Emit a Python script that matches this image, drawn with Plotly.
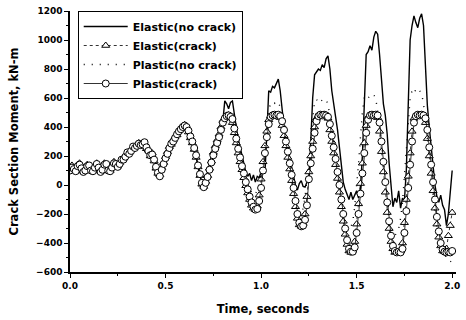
import plotly.graph_objects as go

# Sampling grid of the time history, 0.00 s to 2.00 s every 0.01 s
TIME = [round(i * 0.01, 2) for i in range(201)]

# Crack-section moment histories (kN-m), one value per time step
ELASTIC_NO_CRACK = [
    110, 130, 100, 90, 140, 150, 110, 80, 100, 140, 130, 95, 90, 130, 150, 115, 85, 110, 150, 140, 95, 90, 130, 160, 140, 120,
    150, 180, 170, 200, 230, 210, 240, 270, 250, 275, 290, 270, 285, 300, 250, 230, 200, 215, 170, 120, 80, 60, 110, 150,
    190, 220, 260, 280, 300, 330, 350, 370, 390, 400, 415, 395, 370, 330, 300, 250, 200, 130, 70, 10, -20, 20, 60, 110, 160,
    210, 250, 290, 330, 380, 440, 580, 560, 526, 570, 580, 470, 400, 320, 260, 209, 130, 90, 60, 80, 30, 70, 20, 60, 50,
    90, 100, 80, 350, 650, 640, 680, 670, 700, 730, 650, 500, 400, 320, 250, 180, 110, 60, 0, -35, 10, 30, -10, -15, 20,
    50, 300, 600, 760, 780, 800, 790, 830, 810, 870, 890, 800, 650, 540, 470, 380, 250, 120, 20, -30, -60, -100, -50, -100, -70,
    -40, -90, -20, 200, 550, 900, 920, 960, 930, 1020, 1060, 1040, 900, 700, 560, 480, 350, 150, -30, -150, -90, -120, -40, -160, -90,
    -110, 100, 600, 1000, 1100, 1166, 1120, 1085, 1150, 1180, 1100, 800, 550, 400, 260, 120, 0, -80, -120, -70, -140, -170, -280, -200, -40, 100,
]

ELASTIC_CRACK = [
    110, 135, 105, 100, 140, 150, 110, 95, 105, 140, 130, 105, 100, 135, 150, 115, 95, 115, 150, 140, 105, 100, 130, 160, 140, 130,
    155, 170, 185, 205, 220, 225, 245, 260, 265, 280, 290, 270, 290, 290, 250, 240, 200, 220, 165, 115, 80, 70, 120, 155,
    195, 230, 265, 280, 310, 335, 345, 375, 390, 405, 415, 390, 365, 325, 290, 245, 190, 125, 65, 5, -10, 25, 65, 115, 165,
    225, 270, 310, 350, 400, 445, 465, 480, 475, 465, 430, 360, 290, 220, 160, 105, 50, -5, -55, -100, -140, -160, -170, -145, -70,
    40, 160, 270, 370, 450, 475, 485, 480, 485, 480, 465, 410, 340, 270, 190, 110, 30, -60, -150, -230, -275, -285, -265, -200, -80,
    90, 200, 300, 400, 460, 480, 485, 480, 485, 480, 460, 380, 300, 220, 140, 45, -50, -150, -250, -340, -410, -455, -465, -450, -390,
    -270, -130, 10, 150, 290, 410, 470, 485, 480, 485, 480, 465, 370, 230, 90, -50, -190, -300, -390, -440, -465, -460, -465, -455, -400,
    -260, -100, 60, 220, 370, 460, 480, 485, 480, 485, 475, 430, 320, 200, 80, -40, -160, -270, -360, -420, -455, -460, -440, -350, -280, -190,
]

PLASTIC_NO_CRACK = [
    105, 125, 105, 95, 135, 145, 110, 85, 100, 135, 130, 100, 90, 125, 150, 115, 90, 110, 145, 140, 100, 90, 125, 155, 140, 125,
    150, 175, 175, 200, 225, 215, 240, 265, 255, 275, 285, 275, 285, 295, 255, 230, 200, 215, 170, 120, 80, 65, 110, 150,
    190, 220, 260, 280, 300, 330, 350, 370, 390, 400, 410, 395, 370, 330, 300, 250, 200, 130, 70, 10, -20, 20, 60, 110, 160,
    210, 250, 290, 330, 380, 440, 510, 520, 500, 515, 505, 440, 380, 300, 240, 180, 110, 50, 0, -30, -50, -70, -60, -40, 0,
    60, 150, 280, 400, 520, 560, 550, 565, 555, 570, 540, 460, 370, 280, 190, 100, 20, -60, -140, -190, -210, -200, -160, -80, 20,
    150, 320, 480, 580, 590, 570, 590, 580, 595, 585, 560, 470, 380, 290, 200, 100, 0, -100, -190, -260, -300, -310, -290, -250, -150,
    -20, 150, 330, 500, 600, 620, 600, 615, 605, 620, 600, 520, 410, 290, 160, 30, -100, -210, -290, -340, -350, -330, -300, -230, -120,
    50, 250, 450, 600, 650, 630, 660, 640, 650, 630, 560, 450, 330, 200, 60, -80, -200, -300, -380, -430, -460, -480, -500, -520, -530, -520,
]

PLASTIC_CRACK = [
    100, 120, 110, 95, 130, 140, 115, 90, 100, 130, 135, 100, 95, 120, 145, 120, 90, 105, 140, 145, 100, 95, 120, 150, 145, 125,
    145, 175, 175, 195, 225, 215, 235, 265, 255, 270, 285, 275, 280, 295, 260, 235, 205, 210, 175, 125, 85, 60, 105, 145,
    185, 215, 255, 285, 300, 325, 350, 370, 385, 400, 410, 400, 375, 335, 300, 255, 205, 135, 75, 15, -15, 15, 55, 105, 155,
    205, 250, 290, 330, 380, 430, 460, 475, 480, 470, 455, 390, 320, 250, 190, 130, 80, 20, -30, -80, -120, -150, -170, -165, -110,
    -20, 100, 220, 330, 420, 470, 480, 485, 480, 485, 475, 440, 380, 300, 230, 150, 70, -20, -110, -200, -260, -285, -280, -240, -140,
    40, 150, 250, 360, 440, 475, 485, 480, 485, 480, 470, 420, 340, 260, 180, 90, 0, -100, -200, -300, -380, -440, -460, -460, -430,
    -330, -200, -60, 80, 220, 360, 450, 480, 485, 480, 485, 480, 430, 300, 160, 20, -120, -250, -350, -420, -455, -465, -460, -465, -440,
    -330, -180, -20, 140, 300, 430, 475, 485, 480, 485, 480, 460, 380, 260, 140, 20, -100, -220, -320, -400, -445, -460, -465, -460, -465, -455,
]

X_TICKS = [0.0, 0.5, 1.0, 1.5, 2.0]
X_TICK_TEXT = ["0.0", "0.5", "1.0", "1.5", "2.0"]
Y_TICKS = [-600, -400, -200, 0, 200, 400, 600, 800, 1000, 1200]

FONT = "DejaVu Sans, sans-serif"

fig = go.Figure()

fig.add_trace(go.Scatter(
    x=TIME, y=ELASTIC_NO_CRACK, name="Elastic(no crack)", mode="lines",
    line=dict(color="black", width=1.4),
))
fig.add_trace(go.Scatter(
    x=TIME, y=ELASTIC_CRACK, name="Elastic(crack)", mode="lines+markers",
    line=dict(color="black", width=0.8, dash="dot"),
    marker=dict(symbol="triangle-up", size=7, color="white",
                line=dict(color="black", width=1)),
))
fig.add_trace(go.Scatter(
    x=TIME, y=PLASTIC_NO_CRACK, name="Plastic(no crack)", mode="lines",
    line=dict(color="black", width=1.4, dash="1px,7px"),
))
fig.add_trace(go.Scatter(
    x=TIME, y=PLASTIC_CRACK, name="Plastic(crack)", mode="lines+markers",
    line=dict(color="black", width=0.8),
    marker=dict(symbol="circle", size=7, color="white",
                line=dict(color="black", width=1)),
))

axis_common = dict(
    showgrid=False, zeroline=False, showline=True, linecolor="black", linewidth=1.5,
    ticks="outside", ticklen=4, tickwidth=1.2, tickcolor="black",
    tickfont=dict(family=FONT, size=9, color="black", weight="bold"),
)

title_font = dict(family=FONT, size=11.5, color="black", weight="bold")

fig.update_xaxes(
    range=[0, 2.02], tickvals=X_TICKS, ticktext=X_TICK_TEXT,
    minor=dict(dtick=0.25, tick0=0, ticks="outside", ticklen=2, tickcolor="black"),
    title=dict(text="Time, seconds", font=title_font),
    **axis_common,
)
fig.update_yaxes(
    range=[-600, 1200], tickvals=Y_TICKS,
    minor=dict(dtick=100, tick0=0, ticks="outside", ticklen=2, tickcolor="black"),
    title=dict(text="Crack Section Moment, kN-m", font=title_font),
    **axis_common,
)

fig.update_layout(
    width=466, height=320, autosize=False,
    margin=dict(l=70, r=6, t=10, b=43),
    paper_bgcolor="white", plot_bgcolor="white",
    showlegend=True,
    legend=dict(
        x=0.02, y=1.0, xanchor="left", yanchor="top",
        bgcolor="white", bordercolor="black", borderwidth=1,
        font=dict(family=FONT, size=11, color="black", weight="bold"),
        itemwidth=44, tracegroupgap=0,
    ),
)

fig.write_html("out.html")
